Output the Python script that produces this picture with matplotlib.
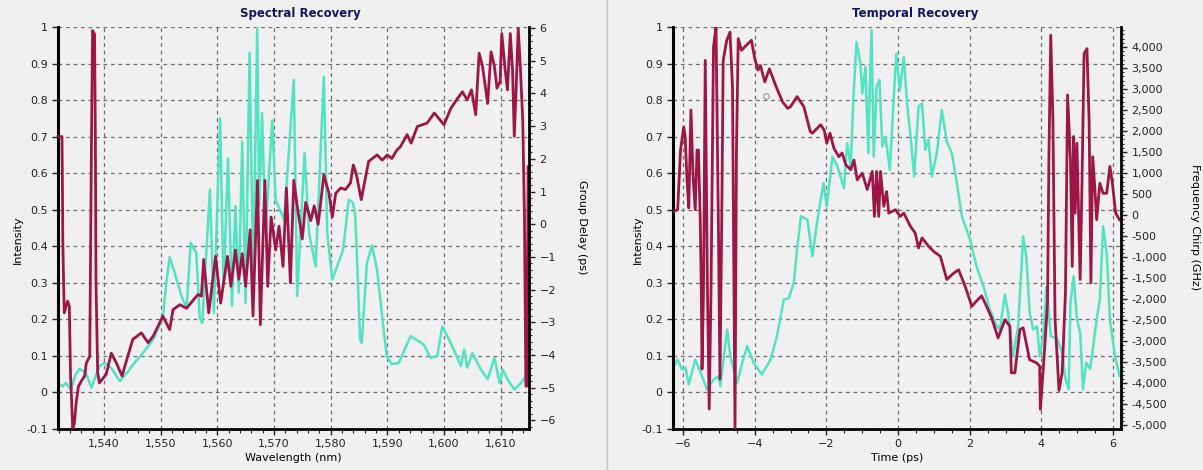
import numpy as np
import matplotlib
matplotlib.use("Agg")
import matplotlib.pyplot as plt
from matplotlib.ticker import MultipleLocator, FuncFormatter
from matplotlib.lines import Line2D

# ---- Spectral Recovery: intensity vs wavelength (nm)
spec_wl = [1531.9, 1532.7, 1533.3, 1534.2, 1535.0, 1535.7, 1536.8, 1537.8, 1539.2, 1540.1,
           1541.3, 1542.8, 1544.3, 1545.1, 1546.9, 1548.7, 1550.4, 1551.0, 1551.6, 1552.5,
           1553.7, 1554.6, 1555.3, 1556.3, 1556.9, 1557.35, 1558.7, 1559.4, 1560.5, 1561.1,
           1561.9, 1562.6, 1563.2, 1563.8, 1564.4, 1565.0, 1565.7, 1566.35, 1567.05, 1567.4,
           1567.9, 1568.5, 1569.7, 1570.3, 1571.8, 1573.5, 1574.1, 1575.4, 1576.2, 1577.35,
           1578.8, 1579.4, 1580.3, 1582.2, 1583.2, 1583.9, 1584.3, 1584.5, 1585.2, 1585.5,
           1586.4, 1587.3, 1588.2, 1589.35, 1589.9, 1590.8, 1592.0, 1594.1, 1595.0, 1596.45,
           1597.6, 1598.8, 1599.7, 1600.6, 1602.1, 1603.0, 1603.55, 1604.1, 1605.0, 1606.5,
           1607.7, 1608.9, 1609.8, 1610.4, 1611.2, 1612.4, 1613.6, 1614.2]
spec_int = [0.026, 0.017, 0.026, 0.008, 0.049, 0.065, 0.054, 0.013, 0.072, 0.081,
            0.067, 0.031, 0.058, 0.076, 0.108, 0.145, 0.204, 0.30, 0.37, 0.327,
            0.263, 0.231, 0.409, 0.382, 0.204, 0.19, 0.555, 0.218, 0.75, 0.29,
            0.64, 0.236, 0.51, 0.273, 0.686, 0.245, 0.93, 0.31, 1.0, 0.51,
            0.764, 0.436, 0.745, 0.527, 0.473, 0.855, 0.264, 0.655, 0.436, 0.345,
            0.864, 0.436, 0.309, 0.39, 0.527, 0.52, 0.49, 0.427, 0.145, 0.136,
            0.354, 0.402, 0.336, 0.172, 0.099, 0.077, 0.081, 0.154, 0.145, 0.131,
            0.095, 0.099, 0.181, 0.154, 0.104, 0.072, 0.118, 0.068, 0.108, 0.063,
            0.036, 0.095, 0.026, 0.063, 0.036, 0.008, 0.026, 0.04]

# group delay (ps) vs wavelength
gd_wl = [1531.86, 1532.6, 1532.7, 1532.75, 1533.0, 1533.6, 1533.9, 1534.1, 1534.5, 1534.8,
         1535.1, 1535.5, 1536.0, 1536.6, 1536.9, 1537.5, 1537.8, 1538.0, 1538.35, 1538.5,
         1538.6, 1538.9, 1539.2, 1540.4, 1541.3, 1542.2, 1543.2, 1544.2, 1545.1, 1546.6,
         1547.8, 1548.7, 1550.4, 1551.6, 1552.2, 1553.4, 1554.6, 1555.8, 1556.6, 1557.2,
         1557.6, 1558.5, 1559.7, 1560.6, 1561.8, 1562.4, 1563.2, 1563.8, 1564.4, 1565.0,
         1565.8, 1566.3, 1567.1, 1567.6, 1568.4, 1568.9, 1569.5, 1570.3, 1570.9, 1571.6,
         1572.2, 1572.9, 1573.5, 1574.2, 1575.0, 1575.6, 1576.5, 1577.1, 1577.8, 1578.4,
         1578.8, 1579.7, 1580.3, 1580.9, 1581.8, 1582.6, 1583.5, 1584.0, 1584.5, 1585.4,
         1586.7, 1588.2, 1589.1, 1590.0, 1590.8, 1591.7, 1592.3, 1593.5, 1594.2, 1595.3,
         1597.0, 1598.3, 1600.0, 1601.2, 1602.4, 1603.25, 1604.1, 1604.85, 1605.6, 1606.2,
         1606.8, 1607.7, 1608.3, 1608.9, 1609.35, 1609.9, 1610.2, 1610.8, 1611.2, 1611.7,
         1612.1, 1612.4, 1612.7, 1613.1, 1613.5, 1613.9, 1614.2, 1614.45, 1614.65, 1614.85]
gd_ps = [2.68, 2.68, 0.83, -0.56, -2.71, -2.35, -2.51, -4.54, -6.26, -6.07,
         -5.46, -4.96, -4.80, -4.64, -4.24, -4.04, 2.46, 5.92, 5.81, 2.46,
         -1.79, -4.54, -4.85, -4.59, -3.94, -4.24, -4.64, -4.04, -3.52, -3.32,
         -3.62, -3.42, -2.81, -3.22, -2.61, -2.46, -2.57, -2.31, -2.15, -2.20,
         -1.08, -2.71, -0.98, -2.41, -0.98, -1.90, -0.79, -1.68, -0.90, -1.90,
         -0.17, -2.80, 1.34, -3.07, 1.34, -1.90, 0.22, -0.79, -0.06, -1.29,
         1.11, -1.79, 1.34, 0.44, -0.45, 0.67, 0.11, 0.56, 0.0, 0.89,
         1.51, 0.95, 0.22, 0.95, 1.11, 1.06, 1.26, 1.81, 1.56, 0.75,
         1.92, 2.12, 1.96, 2.12, 2.01, 2.27, 2.37, 2.74, 2.48, 2.99,
         3.09, 3.40, 3.04, 3.54, 3.85, 4.05, 3.80, 4.11, 3.35, 5.23,
         4.83, 3.69, 5.27, 4.83, 4.16, 4.36, 5.83, 4.71, 4.11, 5.83,
         4.71, 2.69, 4.01, 5.99, 4.71, 3.15, 0.22, -4.95, -4.95, 1.76]

# ---- Temporal Recovery: intensity vs time (ps)
temp_t = [-6.26, -6.15, -6.03, -5.93, -5.84, -5.66, -5.52, -5.33, -5.14, -5.0,
          -4.96, -4.87, -4.77, -4.68, -4.49, -4.35, -4.21, -4.03, -3.80, -3.56,
          -3.38, -3.19, -3.05, -2.91, -2.82, -2.71, -2.53, -2.39, -2.25, -2.08,
          -1.99, -1.83, -1.69, -1.51, -1.42, -1.32, -1.25, -1.16, -1.05, -1.0,
          -0.91, -0.83, -0.79, -0.74, -0.68, -0.60, -0.52, -0.44, -0.35, -0.23,
          -0.12, -0.05, 0.05, 0.16, 0.25, 0.34, 0.45, 0.57, 0.67, 0.76,
          0.85, 0.94, 1.08, 1.22, 1.36, 1.5, 1.64, 1.78, 2.01, 2.19,
          2.38, 2.56, 2.75, 2.84, 2.98, 3.07, 3.21, 3.35, 3.49, 3.58,
          3.67, 3.77, 3.88, 3.95, 4.05, 4.14, 4.26, 4.44, 4.58, 4.67,
          4.76, 4.81, 4.9, 4.99, 5.08, 5.16, 5.25, 5.36, 5.54, 5.63,
          5.72, 5.82, 5.91, 6.05, 6.18]
temp_int = [0.072, 0.09, 0.063, 0.067, 0.022, 0.09, 0.058, 0.008, 0.036, 0.045,
            0.017, 0.09, 0.172, 0.099, 0.026, 0.081, 0.127, 0.081, 0.049, 0.09,
            0.154, 0.254, 0.258, 0.3, 0.39, 0.482, 0.473, 0.373, 0.473, 0.573,
            0.509, 0.645, 0.618, 0.559, 0.682, 0.618, 0.8, 0.959, 0.9, 0.818,
            0.891, 0.655, 0.836, 0.991, 0.645, 0.836, 0.855, 0.673, 0.7, 0.609,
            0.809, 0.927, 0.827, 0.918, 0.791, 0.709, 0.591, 0.782, 0.791, 0.664,
            0.691, 0.591, 0.655, 0.773, 0.686, 0.655, 0.573, 0.482, 0.418, 0.345,
            0.291, 0.227, 0.182, 0.172, 0.268, 0.218, 0.099, 0.181, 0.427, 0.372,
            0.218, 0.172, 0.181, 0.099, 0.154, 0.29, 0.155, 0.145, 0.109, 0.036,
            0.009, 0.245, 0.318, 0.2, 0.164, 0.009, 0.082, 0.064, 0.2, 0.255,
            0.455, 0.382, 0.2, 0.1, 0.045]

# frequency chirp (GHz) vs time
chirp_t = [-6.26, -6.15, -6.07, -5.98, -5.94, -5.89, -5.84, -5.78, -5.72, -5.66,
           -5.61, -5.57, -5.52, -5.49, -5.47, -5.43, -5.38, -5.32, -5.27, -5.22,
           -5.15, -5.08, -5.01, -4.97, -4.92, -4.88, -4.78, -4.69, -4.62, -4.58,
           -4.55, -4.51, -4.46, -4.37, -4.28, -4.09, -4.0, -3.91, -3.84, -3.72,
           -3.59, -3.40, -3.22, -3.08, -3.0, -2.82, -2.63, -2.45,
           -2.39, -2.16, -2.06, -1.99, -1.90, -1.79, -1.65, -1.56, -1.46, -1.32,
           -1.23, -1.14, -1.0, -0.86, -0.72, -0.66, -0.60, -0.54, -0.49, -0.40,
           -0.32, -0.26, -0.07, 0.06, 0.16, 0.34, 0.48, 0.57, 0.67, 0.85,
           0.99, 1.18, 1.36, 1.55, 1.69, 1.87, 2.06, 2.19, 2.33, 2.47, 2.61,
           2.79, 2.98, 3.12, 3.16, 3.26, 3.40, 3.49, 3.67, 3.86, 3.95, 3.97, 4.05,
           4.17, 4.21, 4.26, 4.32, 4.38, 4.49, 4.58, 4.67, 4.73, 4.81,
           4.86, 4.9, 4.94, 4.99, 5.04, 5.08, 5.13, 5.19, 5.27, 5.33,
           5.38, 5.43, 5.5, 5.54, 5.63, 5.72, 5.82, 5.91, 5.98, 6.07, 6.18]
chirp_ghz = [90, 130, 1550, 2100, 1870, 840, 170, 2500, 920, 130,
             1550, 1550, -110, -1840, -3660, -1840, 3680, -1690, -4610, -1840,
             4000, 4475, -500, -3900, -110, 3680, 4160, 4350, 3050, -1690,
             -5090, 1480, 4200, 3920, 4000, 4160, 3730, 3450, 3560, 3170,
             3480, 3050, 2690, 2540, 2580, 2820, 2580, 1990,
             1950, 2150, 2020, 1710, 1950, 1590, 1390, 1480, 1200, 1080,
             1310, 840, 1000, 610, 1040, -30, 1040, -30, 1040, 210,
             560, 50, 130, -30, 50, -260, -430, -780, -540, -740,
             -860, -980, -1530, -1380, -1300, -1690, -2170, -2040, -1920, -2170, -2440,
             -2920, -2490, -2640, -3750, -3750, -2720, -2680, -3440, -3510, -3590, -4620, -3670,
             -2090, 1480, 4280, 2260, -2480, -4170, -3740, -1840, 2860, 1310,
             -1220, 1870, 50, 1710, -110, -1530, 690, 3840, 3960, 2260,
             -1610, 1390, 520, -110, 760, 520, 520, 1160, 760, 50, -110]

# stray hollow marker seen in the temporal plot
stray_t, stray_int = [-3.68], [0.81]

BG = "#F0F0F0"
CYAN = "#52E3C2"
CRIMSON = "#9C1746"
GRID = "#6E6E6E"
TITLE = "#15155C"

plt.rcParams["font.family"] = "DejaVu Sans"
W, H = 1203, 470
fig = plt.figure(figsize=(W / 100, H / 100), dpi=100, facecolor=BG)


def style_axes(ax, axr):
    ax.set_facecolor(BG)
    ax.set_yticks(np.round(np.arange(-0.1, 1.001, 0.1), 1))
    ax.yaxis.set_major_formatter(FuncFormatter(lambda v, p: "%g" % round(v, 1)))
    ax.set_ylim(-0.1, 1.0)
    ax.grid(True, which="major", color=GRID, linestyle=(0, (3, 3)), linewidth=0.9)
    ax.set_axisbelow(True)
    for s in ["top", "right"]:
        ax.spines[s].set_visible(False)
    ax.spines["left"].set_linewidth(2.2)
    ax.spines["bottom"].set_linewidth(2.0)
    for s in ["top", "left", "bottom"]:
        axr.spines[s].set_visible(False)
    axr.spines["right"].set_linewidth(2.0)
    ax.tick_params(which="major", length=4, width=1, labelsize=8, colors="#222222")
    ax.tick_params(which="minor", length=3, width=0.8, colors="#222222")
    axr.tick_params(which="major", length=4, width=1, labelsize=8, colors="#222222")
    axr.tick_params(which="minor", length=2.5, width=0.8, colors="#222222")


# ---- left panel
ax1 = fig.add_axes([58 / W, 41 / H, 471 / W, 402 / H])
ax1.plot(spec_wl, spec_int, color=CYAN, lw=1.8)
ax1.set_xlim(1531.9, 1615.0)
ax1.set_xticks(range(1540, 1611, 10))
ax1.xaxis.set_minor_locator(MultipleLocator(2))
ax1.xaxis.set_major_formatter(FuncFormatter(lambda v, p: f"{v:,.0f}"))
ax1b = ax1.twinx()
ax1b.plot(gd_wl, gd_ps, color=CRIMSON, lw=2.0)
ax1b.set_ylim(-6.26, 6.03)
ax1b.set_yticks(range(-6, 7))
ax1b.yaxis.set_minor_locator(MultipleLocator(0.2))
style_axes(ax1, ax1b)

# ---- right panel
ax2 = fig.add_axes([673 / W, 41 / H, 448 / W, 402 / H])
ax2.plot(temp_t, temp_int, color=CYAN, lw=1.8)
ax2.plot(stray_t, stray_int, "o", mfc="none", mec="#A8A8A8", ms=4, mew=1)
ax2.set_xlim(-6.28, 6.22)
ax2.set_xticks(range(-6, 7, 2))
ax2.xaxis.set_minor_locator(MultipleLocator(0.5))
ax2b = ax2.twinx()
ax2b.plot(chirp_t, chirp_ghz, color=CRIMSON, lw=2.0)
ax2b.set_ylim(-5086, 4475)
ax2b.set_yticks(range(-5000, 4001, 500))
ax2b.yaxis.set_minor_locator(MultipleLocator(100))
ax2b.yaxis.set_major_formatter(FuncFormatter(lambda v, p: f"{v:,.0f}"))
style_axes(ax2, ax2b)

# ---- text
fig.text(300 / W, 1 - 13 / H, "Spectral Recovery", ha="center", va="center",
         fontsize=8.5, fontweight="bold", color=TITLE)
fig.text(915 / W, 1 - 13 / H, "Temporal Recovery", ha="center", va="center",
         fontsize=8.5, fontweight="bold", color=TITLE)
fig.text(18 / W, 1 - 240 / H, "Intensity", rotation=90, ha="center", va="center", fontsize=8)
fig.text(638 / W, 1 - 240 / H, "Intensity", rotation=90, ha="center", va="center", fontsize=8)
fig.text(582 / W, 1 - 227 / H, "Group Delay (ps)", rotation=270, ha="center", va="center", fontsize=8)
fig.text(1195 / W, 1 - 227 / H, "Frequency Chirp (GHz)", rotation=270, ha="center", va="center", fontsize=8)
fig.text(293 / W, 1 - 458 / H, "Wavelength (nm)", ha="center", va="center", fontsize=8)
fig.text(897 / W, 1 - 458 / H, "Time (ps)", ha="center", va="center", fontsize=8)

# panel divider
fig.add_artist(Line2D([607 / W, 607 / W], [0, 1], color="#C4C4C4", lw=1,
                      transform=fig.transFigure))

fig.savefig("out.png", dpi=100, facecolor=BG)
